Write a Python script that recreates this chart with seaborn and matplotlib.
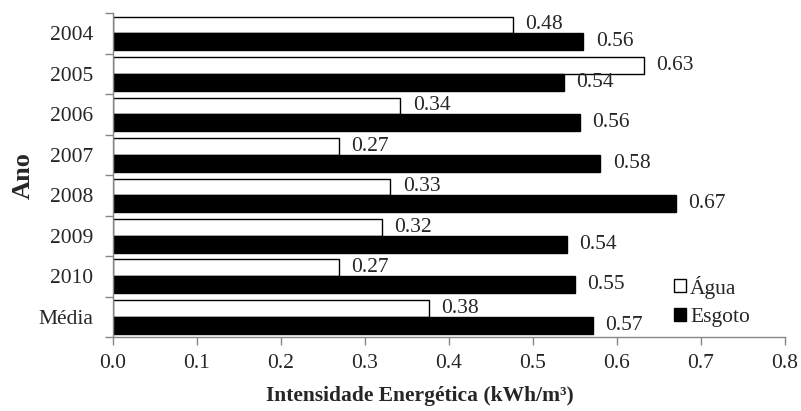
import pandas as pd
import matplotlib.pyplot as plt
import seaborn as sns
from matplotlib.ticker import MultipleLocator, FixedLocator, NullFormatter

# Data (kWh/m3)
anos = ["2004", "2005", "2006", "2007", "2008", "2009", "2010", "Média"]
agua = [0.476, 0.632, 0.342, 0.269, 0.330, 0.320, 0.269, 0.376]
esgoto = [0.560, 0.537, 0.556, 0.580, 0.670, 0.540, 0.550, 0.571]
series = ["Água", "Esgoto"]

df = pd.DataFrame({
    "Ano": anos * 2,
    "valor": agua + esgoto,
    "serie": [series[0]] * len(anos) + [series[1]] * len(anos),
})

sns.set_style("white")
plt.rcParams["font.family"] = ["Liberation Serif", "DejaVu Serif"]

fig, ax = plt.subplots(figsize=(8.01, 4.11), dpi=100)
fig.subplots_adjust(left=0.141, right=0.980, top=0.968, bottom=0.180)

sns.barplot(data=df, y="Ano", x="valor", hue="serie", orient="h",
            palette={"Água": "white", "Esgoto": "black"},
            edgecolor="black", linewidth=1, width=0.83, saturation=1, ax=ax)

for cont in ax.containers:
    ax.bar_label(cont, fmt="%.2f", padding=9, fontsize=15.5)

ax.set_xlim(0, 0.8)
ax.set_ylim(len(anos) - 0.5, -0.5)
ax.xaxis.set_major_locator(MultipleLocator(0.1))
ax.xaxis.set_major_formatter(plt.FuncFormatter(lambda v, p: f"{v:.1f}"))

# category boundary tick marks (Excel style)
ax.yaxis.set_minor_locator(FixedLocator([i - 0.5 for i in range(len(anos) + 1)]))
ax.yaxis.set_minor_formatter(NullFormatter())
ax.tick_params(axis="y", which="major", length=0, labelsize=15.5, pad=14)
ax.tick_params(axis="y", which="minor", length=6, color="#868686", width=1, left=True)
ax.tick_params(axis="x", which="major", length=6, color="#868686", width=1,
               bottom=True, labelsize=15.5, pad=6)

sns.despine(ax=ax)
for s in ["left", "bottom"]:
    ax.spines[s].set_color("#868686")
    ax.spines[s].set_linewidth(1)

ax.set_xlabel("Intensidade Energética (kWh/m³)", fontsize=15.5, fontweight="bold",
              va="center")
ax.xaxis.set_label_coords(0.457, -0.183)
ax.set_ylabel("Ano", fontsize=19, fontweight="bold", labelpad=3)

ax.legend(loc="lower left", bbox_to_anchor=(0.835, 0.03), frameon=False, fontsize=15.5,
          handlelength=0.55, handleheight=0.55, handletextpad=0.2, labelspacing=0.45,
          borderaxespad=0, borderpad=0)

fig.savefig("out.png", dpi=100)
